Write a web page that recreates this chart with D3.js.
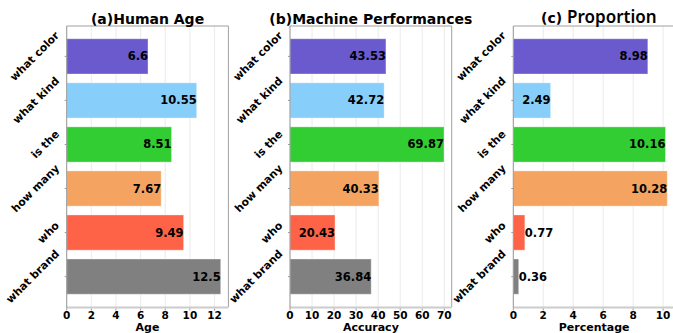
<!DOCTYPE html>
<html><head><meta charset="utf-8">
<script src="https://cdn.jsdelivr.net/npm/d3@7"></script>
<style>body{margin:0;background:#fff}</style>
</head><body><svg id="chart" width="673" height="333"></svg>
<script>
// Question types and the three measurements per type
const categories = ["what color", "what kind", "is the", "how many", "who", "what brand"];
const barColors = ["#6A5ACD", "#87CEFA", "#32CD32", "#F4A460", "#FF6347", "#808080"];
const humanAge = [6.6, 10.55, 8.51, 7.67, 9.49, 12.5];
const accuracy = [43.53, 42.72, 69.87, 40.33, 20.43, 36.84];
const percentage = [8.98, 2.49, 10.16, 10.28, 0.77, 0.36];
const ticksAge = [0, 2, 4, 6, 8, 10, 12];
const ticksAccuracy = [0, 10, 20, 30, 40, 50, 60, 70];
const ticksPercentage = [0, 2, 4, 6, 8, 10];

const panels = [
  { key: "a", title: "(a)Human Age", xlabel: "Age", values: humanAge, ticks: ticksAge, left: 66.7 },
  { key: "b", title: "(b)Machine Performances", xlabel: "Accuracy", values: accuracy, ticks: ticksAccuracy, left: 290 },
  { key: "c", title: null, xlabel: "Percentage", values: percentage, ticks: ticksPercentage, left: 513.3 }
];

const svg = d3.select("#chart");
const plotTop = 26, plotBottom = 307, plotW = 161.7;
const font = "DejaVu Sans, sans-serif";

const y = d3.scaleBand().domain(categories).range([plotTop, plotBottom])
  .paddingInner(0.2).paddingOuter(0.29);

panels.forEach(p => {
  const x = d3.scaleLinear().domain([0, d3.max(p.values) * 1.05]).range([p.left, p.left + plotW]);
  const g = svg.append("g");

  // vertical grid
  g.selectAll("line.grid").data(p.ticks).join("line")
    .attr("x1", d => x(d)).attr("x2", d => x(d))
    .attr("y1", plotTop).attr("y2", plotBottom)
    .attr("stroke", "#e6e6e6").attr("stroke-width", 0.8);

  // bars
  g.selectAll("rect.bar").data(p.values).join("rect")
    .attr("x", x(0)).attr("y", (d, i) => y(categories[i]))
    .attr("width", d => x(d) - x(0)).attr("height", y.bandwidth())
    .attr("fill", (d, i) => barColors[i])
    .attr("stroke", "rgba(255,255,255,0.35)").attr("stroke-width", 1);

  // value labels: inside the bar end, or just past it when the bar is too short
  g.selectAll("text.val").data(p.values).join("text")
    .attr("x", d => x(d)).attr("y", (d, i) => y(categories[i]) + y.bandwidth() / 2)
    .attr("dominant-baseline", "central")
    .attr("font-family", font).attr("font-weight", "bold").attr("font-size", 11.5)
    .attr("fill", "#000")
    .text(d => String(d))
    .each(function (d) {
      const w = this.getComputedTextLength();
      if (x(d) - x(0) < w + 2) d3.select(this).attr("text-anchor", "start");
      else d3.select(this).attr("text-anchor", "end");
    });

  // spines
  g.append("line").attr("x1", p.left).attr("x2", p.left + plotW).attr("y1", plotTop).attr("y2", plotTop)
    .attr("stroke", "#a0a0a0").attr("stroke-width", 1);
  g.append("line").attr("x1", p.left + plotW).attr("x2", p.left + plotW).attr("y1", plotTop).attr("y2", plotBottom)
    .attr("stroke", "#a0a0a0").attr("stroke-width", 1);
  g.append("line").attr("x1", p.left).attr("x2", p.left + plotW).attr("y1", plotBottom + 0.5).attr("y2", plotBottom + 0.5)
    .attr("stroke", "#cccccc").attr("stroke-width", 2);
  g.append("line").attr("x1", p.left).attr("x2", p.left).attr("y1", plotTop).attr("y2", plotBottom + 1.5)
    .attr("stroke", "#999999").attr("stroke-width", 1);

  // x axis ticks and labels
  g.selectAll("line.xt").data(p.ticks).join("line")
    .attr("x1", d => x(d)).attr("x2", d => x(d)).attr("y1", plotBottom + 1.5).attr("y2", plotBottom + 3.5)
    .attr("stroke", "#999");
  g.selectAll("text.xt").data(p.ticks).join("text")
    .attr("x", d => x(d)).attr("y", 319)
    .attr("text-anchor", "middle")
    .attr("font-family", font).attr("font-weight", "bold").attr("font-size", 10.5)
    .text(d => d);
  g.append("text").attr("x", p.left + plotW / 2).attr("y", 331)
    .attr("text-anchor", "middle")
    .attr("font-family", font).attr("font-weight", "bold").attr("font-size", 11)
    .text(p.xlabel);

  // y axis ticks and rotated category labels
  g.selectAll("line.yt").data(categories).join("line")
    .attr("x1", p.left - 2).attr("x2", p.left).attr("y1", d => y(d) + y.bandwidth() / 2)
    .attr("y2", d => y(d) + y.bandwidth() / 2).attr("stroke", "#999");
  const fs = 10.8;
  g.selectAll("text.yt").data(categories).join("text")
    .attr("font-family", font).attr("font-weight", "bold").attr("font-size", fs)
    .attr("text-anchor", "middle").attr("dominant-baseline", "central")
    .text(d => d)
    .each(function (d) {
      const L = this.getComputedTextLength();
      const half = (L + fs) / (2 * Math.SQRT2);
      const cx = p.left - 5.5 - half;
      const cy = y(d) + y.bandwidth() / 2;
      d3.select(this).attr("transform", `translate(${cx},${cy}) rotate(-45)`);
    });

  // title
  if (p.title) {
    g.append("text").attr("x", p.left + plotW / 2).attr("y", 24)
      .attr("text-anchor", "middle")
      .attr("font-family", font).attr("font-weight", "bold").attr("font-size", 14)
      .text(p.title);
  } else {
    const t = g.append("text").attr("x", 541).attr("y", 23);
    t.append("tspan").attr("font-family", font).attr("font-weight", "bold").attr("font-size", 14).text("(c)");
    t.append("tspan").attr("font-family", "Noto Sans, sans-serif").attr("font-weight", 600)
      .attr("font-size", 17).attr("dx", 5).text("Proportion");
  }
});
</script>
</body></html>
